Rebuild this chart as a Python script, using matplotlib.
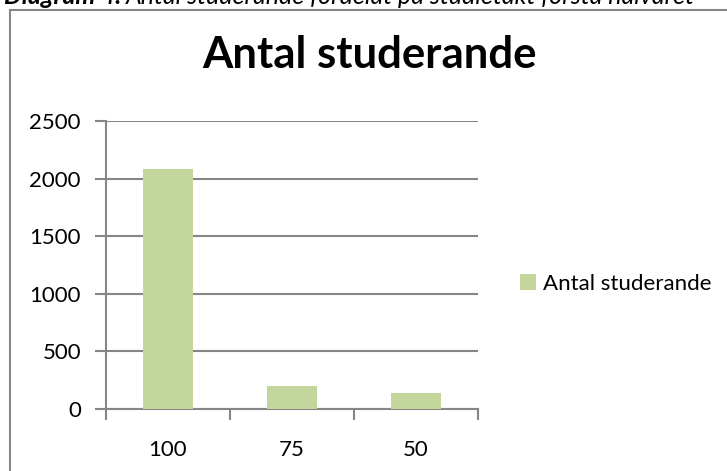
import matplotlib.pyplot as plt
from matplotlib.patches import Rectangle

# data
categories = ['100', '75', '50']
students = [2080, 200, 135]
series_name = 'Antal studerande'
y_ticks = [0, 500, 1000, 1500, 2000, 2500]

bar_color = '#C3D69B'
grid_color = '#868686'

plt.rcParams['font.family'] = ['Lato', 'DejaVu Sans']

fig = plt.figure(figsize=(7.27, 4.71), dpi=100)
W, H = 727, 471

# outer frame of the chart (its right and bottom edges lie outside the picture)
fig.patches.append(Rectangle((10 / W, -0.1), 1.2, 1.1 - 10 / H,
                             transform=fig.transFigure, fill=False,
                             edgecolor=grid_color, linewidth=1.5))

# caption above the chart, only its lower part is inside the picture
cap = fig.text(4 / W, 1 - 4 / H, 'Diagram 4.', fontsize=18, style='italic',
               fontweight='bold', va='baseline', ha='left')
fig.canvas.draw()
bb = cap.get_window_extent()
fig.text((bb.x1 + 5) / W, 1 - 4 / H,
         'Antal studerande fördelat på studietakt första halvåret',
         fontsize=18, style='italic', va='baseline', ha='left')

ax = fig.add_axes([106 / W, 1 - 409 / H, 372 / W, 288 / H])
x = range(len(categories))
ax.bar(x, students, width=0.4, color=bar_color, label=series_name, zorder=3)

ax.set_xlim(-0.5, len(categories) - 0.5)
ax.set_ylim(0, 2500)
ax.set_yticks(y_ticks)
ax.set_xticks(list(x))
ax.set_xticklabels(categories)
ax.set_xticks([-0.5, 0.5, 1.5, 2.5], minor=True)
ax.tick_params(axis='x', which='major', length=0, pad=22, labelsize=16)
ax.tick_params(axis='x', which='minor', length=8, width=1.5, color=grid_color)
ax.tick_params(axis='y', length=8, width=1.5, color=grid_color, pad=10,
               labelsize=16)

ax.grid(axis='y', color=grid_color, linewidth=1.5, zorder=0)
for side in ['top', 'right']:
    ax.spines[side].set_visible(False)
for side in ['left', 'bottom']:
    ax.spines[side].set_color(grid_color)
    ax.spines[side].set_linewidth(1.5)

fig.text(369 / W, 1 - 68 / H, 'Antal studerande', fontsize=31.5,
         fontweight='bold', ha='center', va='baseline')

fig.legend(loc='center left', bbox_to_anchor=(500 / W, 1 - 284 / H),
           frameon=False, fontsize=16, handlelength=0.7, handleheight=0.7,
           handletextpad=0.35)

fig.savefig('out.png', dpi=100)
